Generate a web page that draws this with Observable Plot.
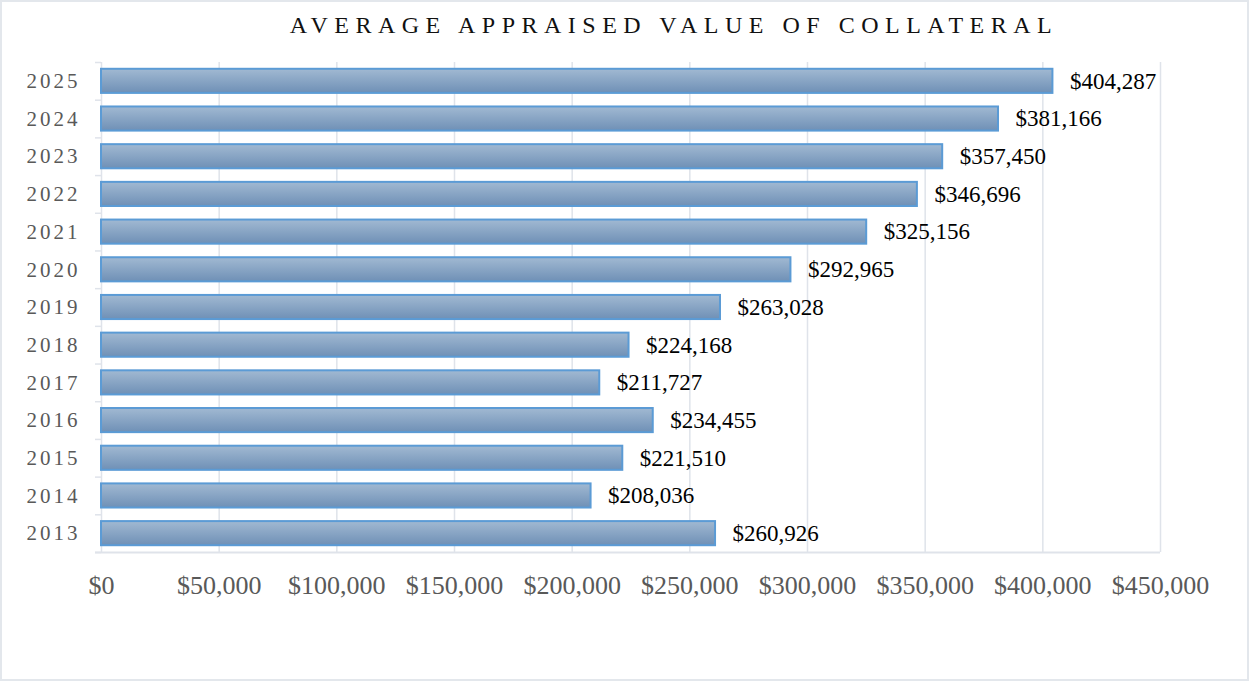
<!DOCTYPE html>
<html>
<head>
<meta charset="utf-8">
<script src="https://cdn.jsdelivr.net/npm/d3@7"></script>
<script src="https://cdn.jsdelivr.net/npm/@observablehq/plot@0.6"></script>
<style>
  html, body { margin: 0; padding: 0; background: #fff; }
  #wrap { position: relative; width: 1249px; height: 681px; overflow: hidden; }
  #frame { position: absolute; left: 0; top: 0; width: 1245px; height: 677px; border: 2px solid #e3e7ec; pointer-events: none; }
  #title { position: absolute; left: 0; top: 13px; width: 1348px; text-align: center; font-family: "Liberation Serif", "Times New Roman", serif; font-size: 24px; letter-spacing: 6.5px; color: #111; white-space: nowrap; line-height: 1; }
</style>
</head>
<body>
<div id="wrap">
  <div id="chart"></div>
  <div id="title">AVERAGE APPRAISED VALUE OF COLLATERAL</div>
  <div id="frame"></div>
</div>
<script>
const years = [2013, 2014, 2015, 2016, 2017, 2018, 2019, 2020, 2021, 2022, 2023, 2024, 2025];
const values = [260926, 208036, 221510, 234455, 211727, 224168, 263028, 292965, 325156, 346696, 357450, 381166, 404287];
const xTicks = [0, 50000, 100000, 150000, 200000, 250000, 300000, 350000, 400000, 450000];

const data = years.map((y, i) => ({year: y, value: values[i]}));
const boundaries = years.map(y => y - 0.5).concat([years[years.length - 1] + 0.5]);
const yMin = years[0] - 0.5, yMax = years[years.length - 1] + 0.5;
const half = 0.32;
const serif = "Liberation Serif, Times New Roman, serif";
const money = d3.format("$,");

const defs = () => {
  const ns = "http://www.w3.org/2000/svg";
  const d = document.createElementNS(ns, "defs");
  d.innerHTML = `<linearGradient id="barGrad" x1="0" y1="0" x2="0" y2="1">
      <stop offset="0" stop-color="#a1b9d2"/>
      <stop offset="1" stop-color="#6f90b6"/>
    </linearGradient>`;
  return d;
};

const plot = Plot.plot({
  width: 1249,
  height: 681,
  marginLeft: 101,
  marginRight: 89,
  marginTop: 62,
  marginBottom: 129,
  style: {fontFamily: serif, background: "transparent"},
  x: {domain: [0, 450000], label: null},
  y: {domain: [yMin, yMax], label: null},
  marks: [
    defs,
    Plot.ruleX(xTicks, {x: d => d, y1: yMin, y2: yMax, stroke: "#dfe3ea", strokeWidth: 1.5}),
    Plot.ruleY([yMin], {x1: 0, x2: 450000, stroke: "#dfe3ea", strokeWidth: 2, insetLeft: -6}),
    Plot.axisY({ticks: boundaries, tickSize: 6, tickFormat: () => "", stroke: "#dfe3ea", strokeWidth: 1.5, label: null}),
    Plot.axisY({ticks: years, tickSize: 0, tickPadding: 21, tickFormat: d => String(d), fontSize: 21, fill: "#595959", className: "ylab", label: null}),
    Plot.axisX({ticks: xTicks, tickSize: 0, tickPadding: 23, tickFormat: money, fontSize: 26, fill: "#595959", label: null}),
    Plot.rectX(data, {x: "value", y1: d => d.year - half, y2: d => d.year + half, fill: "url(#barGrad)", stroke: "#5b9bd5", strokeWidth: 2}),
    Plot.text(data, {x: "value", y: "year", text: d => money(d.value), textAnchor: "start", dx: 17, fontSize: 23, fill: "#000"})
  ]
});
document.getElementById("chart").appendChild(plot);
d3.select(plot).selectAll("g.ylab text").style("letter-spacing", "3px");
</script>
</body>
</html>
